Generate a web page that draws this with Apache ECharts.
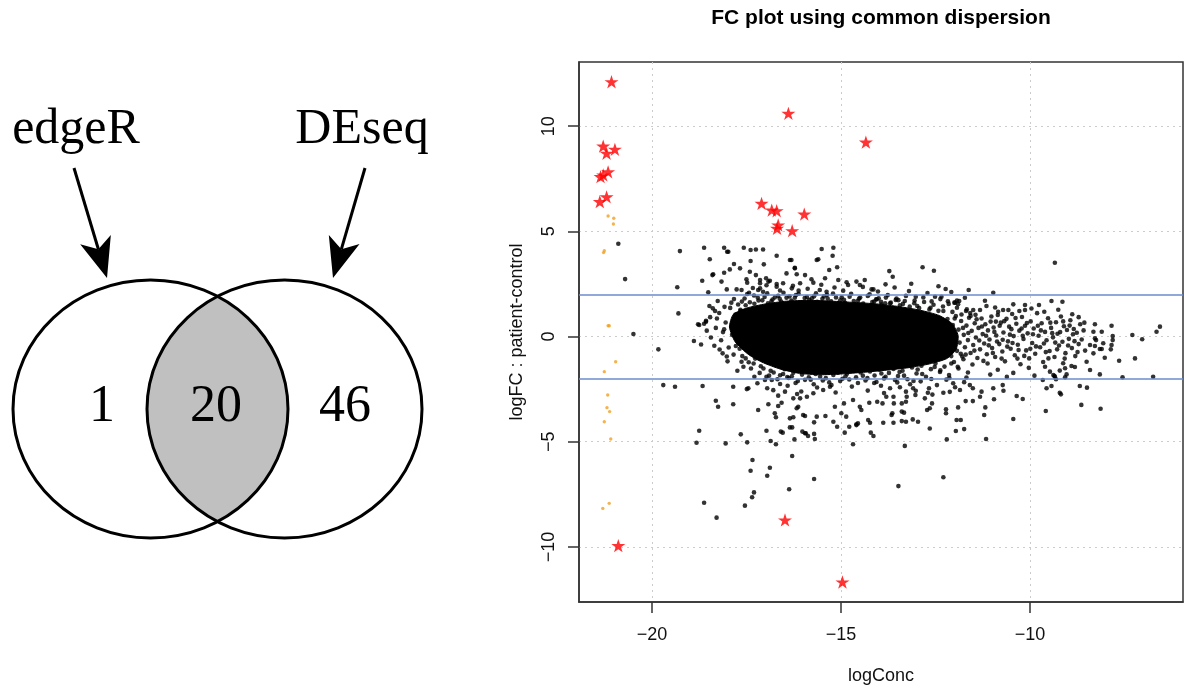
<!DOCTYPE html>
<html><head><meta charset="utf-8">
<script src="https://cdn.jsdelivr.net/npm/echarts@6/dist/echarts.min.js"></script>
<style>html,body{margin:0;padding:0;background:#fff}#c{width:1184px;height:690px}</style>
</head><body><div id="c"></div>
<script>
// ---------- data ----------
const vennSetNames = ['edgeR', 'DEseq'];
const vennCounts = [1, 20, 46]; // edgeR only, both, DEseq only
const chartTitle = 'FC plot using common dispersion';
const xAxisName = 'logConc';
const yAxisName = 'logFC : patient-control';
const xTicks = [-20, -15, -10];
const yTicks = [-10, -5, 0, 5, 10];
const fcCutoffs = [2, -2];

// significant genes (red stars)
const deStars = [
  [-21.07,12.11],[-16.39,10.61],[-14.34,9.24],[-21.29,9.05],[-20.98,8.90],[-21.20,8.71],
  [-21.16,7.83],[-21.36,7.60],[-21.29,7.68],[-21.20,6.64],[-21.38,6.41],
  [-17.10,6.33],[-16.83,6.01],[-16.70,5.98],[-15.97,5.82],[-16.66,5.30],[-16.69,5.14],[-16.29,5.03],
  [-20.89,-9.94],[-16.48,-8.72],[-14.96,-11.67]
];

// low count genes (orange)
const lowCountGenes = [
  [-21.16,5.73],[-21.01,5.62],[-21.02,5.35],[-21.28,3.99],[-21.26,4.08],
  [-21.16,0.51],[-21.13,0.51],[-20.96,-1.20],[-21.26,-1.67],[-21.17,-2.78],
  [-21.19,-3.38],[-21.12,-3.57],[-21.26,-4.05],[-21.09,-4.87],[-21.30,-8.17],[-21.13,-7.93]
];

// outline of the saturated (fully black) centre of the point cloud
const denseCoreOutline = [
  [-17.85,1.05],[-17.95,0.45],[-17.80,-0.25],[-17.45,-0.85],[-17.05,-1.25],[-16.60,-1.55],
  [-16.10,-1.75],[-15.55,-1.82],[-15.00,-1.78],[-14.40,-1.70],[-13.80,-1.60],[-13.20,-1.48],
  [-12.65,-1.30],[-12.20,-1.05],[-11.95,-0.60],[-11.90,0.05],[-12.05,0.60],[-12.40,1.00],
  [-12.90,1.25],[-13.45,1.42],[-14.05,1.55],[-14.65,1.62],[-15.25,1.68],[-15.85,1.72],
  [-16.45,1.68],[-17.00,1.55],[-17.50,1.35]
];

// other genes (black dots)
const otherGenes = [
  // upper scatter
  [-20.89,4.41],[-20.71,2.73],[-19.26,4.06],[-19.33,2.34],[-18.62,4.22],[-18.47,3.67],[-18.67,2.65],
  [-18.09,4.22],[-18.01,4.03],[-17.57,4.22],[-17.39,4.11],[-17.06,4.14],[-17.25,4.14],[-17.98,4.03],
  [-17.39,3.59],[-17.04,3.43],[-16.70,3.84],[-16.31,3.64],[-15.51,4.16],[-15.20,4.22],[-15.22,3.84],
  [-15.60,3.67],[-15.31,3.16],[-15.10,3.29],[-17.83,3.45],[-17.67,3.24],[-17.94,3.19],[-18.40,2.92],
  [-18.09,3.03],[-18.16,2.61],[-18.02,2.24],[-17.41,3.08],[-17.48,2.56],[-17.14,2.69],[-16.92,2.61],
  [-16.44,3.00],[-16.22,3.24],[-15.95,2.92],[-16.08,2.53],[-15.73,2.56],[-15.42,2.77],[-15.07,2.69],
  [-14.94,2.18],[-17.76,2.24],[-17.14,2.29],[-16.70,2.37],[-16.35,3.64],[-15.64,3.64],[-16.22,3.27],
  [-18.38,2.96],[-17.25,2.92],[-16.17,2.96],[-16.98,2.77],[-16.88,2.65],[-17.50,2.72],[-17.14,2.53],
  [-16.70,2.50],[-16.53,2.53],[-15.78,2.72],[-14.59,2.61],[-14.50,2.45],[-14.81,2.45],[-14.19,2.24],
  [-17.63,2.21],[-17.43,2.08],[-17.19,2.21],[-17.06,2.13],[-16.30,2.29],[-16.12,2.18],[-15.56,2.21],
  [-15.38,2.13],[-18.51,2.10],[-14.37,2.69],[-14.14,2.24],[-13.82,2.48],[-13.72,3.11],[-13.63,2.84],
  [-13.20,2.16],[-12.84,3.29],[-12.54,3.13],[-12.23,2.26],[-10.97,2.08],[-9.34,3.51],
  [-13.02,1.89],[-12.51,1.89],[-12.34,1.89],[-11.98,1.61],[-11.90,1.54],[-11.72,1.84],[-11.19,1.70],
  [-11.15,1.45],[-9.43,1.69],[-9.14,1.65],[-9.76,1.50],[-10.13,1.50],[-10.13,1.26],[-10.44,1.53],
  [-10.57,1.26],[-11.67,1.29],[-11.50,1.26],[-11.32,1.26],[-10.84,1.18],[-10.71,1.26],
  [-14.07,1.77],[-13.94,1.65],[-13.83,1.58],[-13.48,1.73],[-12.00,1.61],[-11.87,1.69],
  [-17.33,2.31],[-16.97,2.44],[-16.61,2.19],[-16.27,2.41],[-15.88,2.27],[-15.52,2.46],[-15.17,2.33],
  [-14.85,2.58],[-14.42,2.36],[-14.02,2.14],[-13.58,2.33],[-13.14,2.51],[-12.71,2.07],[-12.42,2.39],
  [-12.08,2.12],[-11.62,2.21],
  // left of the cloud
  [-20.49,0.12],[-19.83,-0.61],[-19.30,1.10],[-18.89,-0.21],[-18.78,0.58],[-18.57,0.70],[-18.39,1.34],
  [-18.33,1.21],[-18.13,-0.80],[-18.09,0.34],[-17.78,-0.45],[-17.63,-1.20],[-18.57,0.75],[-18.75,0.55],
  // lower scatter
  [-19.70,-2.31],[-19.39,-2.39],[-18.66,-2.35],[-17.85,-2.39],[-17.45,-2.46],[-17.01,-2.07],[-16.61,-2.26],
  [-18.31,-3.05],[-18.25,-3.34],[-17.85,-3.22],[-17.49,-2.50],[-17.19,-3.49],[-16.92,-3.22],[-16.66,-2.81],
  [-18.75,-4.48],[-18.82,-5.05],[-18.05,-5.08],[-17.65,-4.65],[-17.48,-5.03],[-17.34,-5.87],[-17.39,-6.38],
  [-16.88,-6.24],[-16.95,-6.62],[-17.30,-7.41],[-17.35,-7.64],[-17.54,-8.04],[-18.62,-7.90],[-18.29,-8.61],
  [-16.97,-4.48],[-16.86,-4.97],[-16.72,-5.12],[-16.59,-4.52],[-16.54,-4.57],[-16.37,-7.26],[-16.29,-5.68],
  [-16.23,-4.89],[-15.95,-4.60],[-15.71,-6.77],[-15.71,-4.63],[-15.69,-4.87],[-16.35,-3.89],[-16.26,-3.84],
  [-16.75,-3.65],[-16.72,-3.84],[-16.17,-3.41],[-16.13,-3.34],[-15.95,-3.78],[-15.64,-3.81],[-15.41,-3.78],
  [-15.20,-4.05],[-15.10,-4.29],[-14.99,-3.65],[-14.86,-3.81],[-14.90,-4.57],[-14.68,-5.12],[-14.59,-4.21],
  [-16.08,-2.94],[-15.90,-2.86],[-16.48,-2.62],[-15.73,-2.70],[-15.47,-2.54],[-15.29,-2.39],[-17.29,-1.91],
  [-16.97,-1.91],[-16.66,-3.30],[-16.57,-3.15],[-16.29,-4.32],[-16.35,-4.32],[-16.02,-4.52],[-15.93,-4.60],
  [-15.87,-4.73],[-16.00,-3.73],[-15.71,-4.08],[-14.78,-4.29],[-14.59,-4.17],[-14.55,-4.13],[-14.28,-3.97],
  [-14.23,-4.10],[-14.21,-4.57],[-14.14,-4.73],[-14.50,-3.34],[-14.46,-3.49],[-14.25,-3.15],[-14.92,-3.18],
  [-14.68,-3.02],[-15.16,-3.34],[-16.95,-2.46],[-16.83,-2.07],[-16.26,-2.94],[-16.16,-2.73],
  [-13.90,-3.18],[-14.04,-3.10],[-13.61,-2.86],[-13.60,-3.18],[-13.39,-3.18],[-13.28,-3.10],[-13.26,-2.86],
  [-13.28,-2.62],[-13.70,-2.46],[-13.80,-2.86],[-13.09,-2.46],[-13.03,-2.78],[-12.78,-2.94],[-12.70,-2.67],
  [-12.67,-2.46],[-13.66,-3.73],[-13.64,-3.65],[-13.39,-3.57],[-13.33,-3.62],[-13.88,-4.10],[-13.61,-4.10],
  [-13.39,-4.02],[-13.28,-4.05],[-13.10,-3.94],[-12.96,-4.05],[-12.72,-3.49],[-12.65,-3.41],[-12.59,-3.18],
  [-12.65,-4.37],[-12.22,-3.46],[-12.22,-3.65],[-11.90,-3.37],[-12.29,-2.67],[-11.70,-3.07],[-11.51,-3.07],
  [-11.94,-3.97],[-11.83,-3.97],[-11.96,-4.49],[-11.74,-4.40],[-12.20,-4.89],[-11.21,-3.73],[-11.18,-3.37],
  [-10.95,-2.98],[-11.16,-4.87],[-13.31,-5.20],[-12.29,-6.69],[-13.48,-7.11],[-10.44,-3.92],[-10.35,-2.83],
  [-10.19,-2.97],[-10.70,-2.58],[-10.72,-2.31],[-10.97,-2.46],[-9.58,-3.54],[-9.56,-2.46],[-9.43,-2.35],
  [-9.21,-2.67],[-9.18,-2.75],[-9.07,-1.94],[-9.35,-1.88],[-9.66,-2.07],[-11.32,-2.86],[-11.28,-2.62],
  [-11.59,-2.31],[-11.51,-2.46],[-11.85,-2.54],[-12.03,-2.22],
  [-14.12,-2.21],[-13.94,-2.34],[-13.51,-2.18],[-13.17,-2.27],[-12.89,-2.13],[-12.46,-2.31],[-12.21,-2.05],
  [-11.98,-2.41],[-11.74,-2.17],
  [-17.21,-2.22],[-16.79,-2.55],[-16.41,-2.34],[-16.05,-2.61],[-15.63,-2.42],[-15.14,-2.66],[-14.71,-2.38],
  [-14.29,-2.57],[-13.86,-2.69],[-13.44,-2.41],[-13.02,-2.58],[-12.58,-2.76],[-12.12,-2.63],
  // right tail
  [-8.56,0.66],[-8.28,0.58],[-7.84,0.51],[-7.29,0.07],[-7.03,-0.13],[-6.65,0.23],[-6.56,0.47],[-7.81,0.02],
  [-7.81,-0.17],[-7.84,-0.40],[-7.86,-0.61],[-8.10,0.23],[-8.06,-0.32],[-8.10,-0.59],[-8.32,0.23],[-8.28,-0.09],
  [-8.25,-0.17],[-8.41,-0.40],[-8.28,-0.45],[-8.32,-0.80],[-8.15,-0.59],[-8.02,-1.01],[-7.64,-1.15],[-7.22,-1.04],
  [-8.41,-1.59],[-8.50,-1.20],[-8.15,-1.80],[-7.55,-1.94],[-6.74,-1.91],[-8.68,-2.35],[-8.49,-2.43],[-8.64,-3.25],
  [-8.13,-3.43],[-8.90,-1.40],[-9.12,-1.27],[-9.07,-1.51],[-9.03,-1.80],[-9.34,-1.91],[-9.31,-2.03],[-9.47,-1.67],
  [-9.38,-1.83],[-9.60,-1.44],[-9.51,-1.04],
  // edge of the dense cloud: top
  [-17.72,1.52],[-17.55,1.81],[-17.41,1.63],[-17.30,1.95],[-17.18,1.71],[-17.02,1.88],[-16.93,1.58],[-16.81,1.76],
  [-16.66,1.93],[-16.58,1.66],[-16.44,1.84],[-16.31,1.71],[-16.19,1.97],[-16.07,1.62],[-15.96,1.83],[-15.84,1.74],
  [-15.71,1.91],[-15.63,1.65],[-15.49,1.79],[-15.37,1.98],[-15.26,1.68],[-15.13,1.86],[-15.02,1.72],[-14.89,1.60],
  [-14.77,1.89],[-14.66,1.69],[-14.52,1.81],[-14.41,1.57],[-14.29,1.93],[-14.17,1.64],[-14.05,1.77],[-13.93,1.52],
  [-13.81,1.85],[-13.68,1.61],[-13.55,1.74],[-13.44,1.48],[-13.31,1.69],[-13.18,1.42],[-13.06,1.58],[-12.93,1.35],
  [-12.80,1.64],[-12.66,1.29],[-12.55,1.51],[-12.42,1.22],[-12.30,1.43],[-12.17,1.68],[-12.05,1.17],[-11.93,1.37],
  [-11.81,1.05],[-11.69,1.21],[-11.57,0.98],
  [-17.62,1.66],[-17.48,2.02],[-17.20,1.84],[-16.95,2.05],[-16.75,1.86],[-16.52,2.08],[-16.36,1.90],[-16.12,2.03],
  [-15.90,1.88],[-15.66,2.06],[-15.45,1.91],[-15.21,2.04],[-14.98,1.87],[-14.73,2.03],[-14.49,1.85],[-14.24,2.01],
  [-14.00,1.82],[-13.76,1.97],[-13.53,1.80],[-13.28,1.93],[-13.05,1.71],[-12.82,1.86],[-12.60,1.67],[-12.37,1.78],
  [-12.15,1.55],[-11.93,1.71],
  [-17.66,1.21],[-17.52,1.49],[-17.29,1.56],[-17.08,1.72],[-16.84,1.67],[-16.62,1.79],[-16.22,1.84],[-15.77,1.82],
  [-15.35,1.80],[-14.92,1.75],[-14.55,1.70],[-14.12,1.66],[-13.70,1.58],[-13.36,1.55],[-12.98,1.45],[-12.63,1.37],
  [-12.29,1.21],[-11.99,0.86],
  // edge of the dense cloud: bottom
  [-17.61,-0.93],[-17.44,-1.22],[-17.27,-1.05],[-17.12,-1.41],[-16.98,-1.18],[-16.86,-1.63],[-16.73,-1.37],
  [-16.61,-1.84],[-16.49,-1.55],[-16.38,-1.97],[-16.26,-1.72],[-16.14,-2.12],[-16.03,-1.81],[-15.91,-1.63],
  [-15.80,-2.05],[-15.67,-1.78],[-15.55,-1.91],[-15.43,-1.69],[-15.31,-2.18],[-15.20,-1.83],[-15.08,-1.72],
  [-14.96,-2.01],[-14.84,-1.77],[-14.71,-1.62],[-14.60,-1.94],[-14.48,-1.71],[-14.35,-2.09],[-14.23,-1.66],
  [-14.11,-1.85],[-13.98,-1.58],[-13.86,-1.99],[-13.73,-1.73],[-13.61,-1.54],[-13.49,-1.88],[-13.37,-1.63],
  [-13.24,-2.03],[-13.12,-1.47],[-13.00,-1.76],[-12.87,-1.39],[-12.75,-1.91],[-12.62,-1.55],[-12.50,-1.28],
  [-12.38,-1.69],[-12.26,-1.43],[-12.13,-1.97],[-12.01,-1.21],[-11.89,-1.52],[-11.76,-1.08],[-11.64,-1.71],
  [-11.52,-1.33],
  [-17.38,-1.52],[-17.15,-1.73],[-16.90,-1.86],[-16.68,-2.03],[-16.42,-1.93],[-16.20,-2.21],[-15.95,-2.06],
  [-15.72,-2.27],[-15.48,-2.09],[-15.25,-2.31],[-15.02,-2.12],[-14.78,-2.04],[-14.55,-2.21],[-14.30,-1.98],
  [-14.06,-2.16],[-13.82,-1.92],[-13.57,-2.07],[-13.33,-1.86],[-13.08,-2.11],[-12.85,-1.78],[-12.61,-2.02],
  [-12.37,-1.61],[-12.14,-1.83],[-11.91,-1.44],[-11.68,-1.95],
  [-17.68,-0.58],[-17.52,-1.04],[-17.31,-1.28],[-17.05,-1.52],[-16.78,-1.71],[-16.53,-1.78],[-16.30,-1.89],
  [-15.85,-1.94],[-15.40,-1.98],[-14.88,-1.89],[-14.42,-1.86],[-13.93,-1.76],[-13.45,-1.69],[-12.97,-1.57],
  [-12.52,-1.45],[-12.08,-1.28],[-11.83,-0.82],
  // edge of the dense cloud: left
  [-18.46,0.92],[-18.31,0.41],[-18.22,1.12],[-18.17,-0.18],[-18.05,0.67],[-17.97,-0.52],[-17.93,1.36],[-17.88,0.08],
  [-17.84,-0.86],[-17.79,1.04],[-17.74,0.52],[-17.70,-0.31],[-17.66,1.27],[-18.12,0.21],[-18.02,-0.95],[-17.90,1.61],
  [-18.35,-0.44],[-18.55,0.28],[-17.58,-1.44],[-17.83,1.78],
  [-18.62,0.61],[-18.44,-0.05],[-18.28,0.86],[-18.21,-0.62],[-18.08,1.41],[-18.00,-1.18],[-18.48,1.45],[-18.70,-0.38],
  [-18.26,1.69],[-17.74,-1.63],
  // thinning cloud to the right
  [-12.18,0.83],[-12.15,0.21],[-12.11,-0.47],[-12.08,-0.93],[-12.04,0.55],[-12.00,-0.12],[-11.96,0.97],[-11.93,-0.68],
  [-11.89,0.33],[-11.86,-0.29],[-11.82,0.74],[-11.79,-0.95],[-11.75,0.08],[-11.72,-0.51],[-11.68,0.52],[-11.64,-0.17],
  [-11.61,0.89],[-11.57,-0.78],[-11.54,0.27],[-11.50,-0.40],[-11.46,0.63],[-11.43,-0.05],[-11.39,-1.02],[-11.36,0.41],
  [-11.32,-0.61],[-11.28,0.86],[-11.25,0.12],[-11.21,-0.33],[-11.18,0.58],[-11.14,-0.84],[-11.11,0.29],[-11.07,-0.14],
  [-11.04,0.71],[-11.00,-0.55],
  [-11.77,0.41],[-11.70,-0.86],[-11.63,0.17],[-11.58,1.12],[-11.47,-0.67],[-11.41,0.82],[-11.34,-0.19],[-11.27,0.48],
  [-11.23,-1.16],[-11.16,0.04],[-11.09,-0.42],[-11.02,0.95],[-10.98,-0.78],[-10.94,0.22],[-10.87,-0.24],[-10.80,0.51],
  [-10.75,-1.05],[-10.68,0.73],[-10.60,-0.48],[-10.53,0.09],[-10.46,-0.31],[-10.38,0.88],[-10.30,-0.64],[-10.22,0.38],
  [-10.15,-0.92],[-10.08,0.64],[-9.92,0.11],[-9.84,-0.47],[-9.71,0.29],[-9.58,-0.74],[-9.46,0.66],[-9.33,-0.29],
  [-9.20,0.21],[-9.08,-1.05],[-8.95,0.52],[-8.82,-0.22],
  [-11.44,1.03],[-11.12,-1.28],[-10.90,0.71],[-10.72,-0.15],[-10.49,0.35],[-10.33,-1.05],[-10.19,0.04],[-9.99,-0.58],
  [-9.79,0.51],[-9.63,-0.33],[-9.41,0.16],[-9.28,-0.61],[-9.12,0.72],[-8.99,-0.43],[-8.86,0.11],[-8.74,-0.74],
  [-10.96,0.43],[-10.92,-0.97],[-10.89,0.05],[-10.85,1.02],[-10.81,-0.36],[-10.77,0.66],[-10.73,-0.71],[-10.70,0.19],
  [-10.66,-1.18],[-10.62,0.84],[-10.58,-0.23],[-10.55,0.47],[-10.51,-0.58],[-10.47,1.07],[-10.43,0.02],[-10.40,-0.89],
  [-10.36,0.61],[-10.32,-0.39],[-10.28,0.28],[-10.25,-1.32],[-10.21,0.93],[-10.17,-0.12],[-10.13,0.51],[-10.10,-0.66],
  [-10.06,0.15],[-10.02,-1.04],
  [-9.98,0.72],[-9.94,-0.31],[-9.90,0.38],[-9.86,-0.82],[-9.81,1.11],[-9.77,0.04],[-9.73,-0.51],[-9.69,0.63],
  [-9.65,-1.21],[-9.60,0.22],[-9.56,-0.18],[-9.52,0.87],[-9.48,-0.69],[-9.44,0.41],[-9.39,-0.04],[-9.35,-0.97],
  [-9.31,0.68],[-9.27,0.13],[-9.23,-0.43],[-9.18,0.95],[-9.14,-0.25],[-9.10,0.49],[-9.06,-0.79],[-9.02,0.31],
  [-8.97,-0.11],[-8.93,0.77],[-8.89,-0.55],[-8.84,0.36],[-8.80,-0.93],[-8.76,0.18],[-8.71,-0.36],[-8.67,0.58],
  [-8.63,-0.14],[-8.58,0.29],[-8.54,-0.67],
  [-10.85,-1.58],[-10.44,-1.73],[-10.03,-1.49],[-9.88,-1.86],[-9.21,-1.62],[-8.81,-1.45],[-10.61,-1.92],[-11.05,-1.81],
  [-10.92,1.38],[-10.28,1.21],[-9.96,1.33],[-9.62,1.18],[-9.25,1.27],[-8.88,1.06],[-8.71,0.92]
];

// ---------- layout helpers (geometry of the Venn drawing) ----------
const VENN = { cy: 409, rx: 137.5, ry: 129, cxL: 150.5, cxR: 284.5 };
function lensPoints() {
  const pts = [];
  const t0 = Math.acos(((VENN.cxR - VENN.cxL) / 2) / VENN.rx);
  const N = 60;
  for (let i = 0; i <= N; i++) { const t = -t0 + 2 * t0 * i / N; pts.push([VENN.cxL + VENN.rx * Math.cos(t), VENN.cy + VENN.ry * Math.sin(t)]); }
  for (let i = 0; i <= N; i++) { const t = t0 - 2 * t0 * i / N; pts.push([VENN.cxR - VENN.rx * Math.cos(t), VENN.cy + VENN.ry * Math.sin(t)]); }
  return pts;
}
function arrow(sx, sy, tx, ty) {
  const dx = tx - sx, dy = ty - sy, len = Math.hypot(dx, dy), ux = dx / len, uy = dy / len, nx = -uy, ny = ux;
  const L = 40, W = 16, notch = 30;
  return [
    { type: 'line', z: 3, shape: { x1: sx, y1: sy, x2: tx - ux * notch, y2: ty - uy * notch }, style: { stroke: '#000', lineWidth: 3 } },
    { type: 'polygon', z: 3, shape: { points: [[tx, ty], [tx - ux * L + nx * W, ty - uy * L + ny * W], [tx - ux * notch, ty - uy * notch], [tx - ux * L - nx * W, ty - uy * L - ny * W]] }, style: { fill: '#000' } }
  ];
}
function txt(text, x, y, font, align) {
  return { type: 'text', z: 10, x: x, y: y, style: { text: text, font: font, fill: '#000', textAlign: align || 'center', align: align || 'center', textVerticalAlign: 'middle', verticalAlign: 'middle' } };
}

const STAR = 'path://M50,0 L61.23,34.55 L97.55,34.55 L68.17,55.9 L79.39,90.45 L50,69.1 L20.61,90.45 L31.83,55.9 L2.45,34.55 L38.77,34.55 Z';
const minus = v => String(v).replace('-', '\u2212');
const SANS = '"Liberation Sans", Arial, sans-serif';
const SERIF = '"Liberation Serif", "Times New Roman", serif';

const chart = echarts.init(document.getElementById('c'), null, { renderer: 'canvas' });
chart.setOption({
  animation: false,
  backgroundColor: '#fff',
  grid: { left: 579, top: 62, width: 604, height: 540, show: true, borderColor: '#333', borderWidth: 1.5, backgroundColor: 'transparent', containLabel: false },
  xAxis: {
    type: 'value', min: -21.93, max: -5.95,
    name: xAxisName, nameLocation: 'middle', nameGap: 65,
    nameTextStyle: { fontFamily: SANS, fontSize: 18, color: '#111' },
    axisLine: { show: true, onZero: false, lineStyle: { color: '#333', width: 1.5 } },
    axisTick: { show: true, length: 11, customValues: xTicks, lineStyle: { color: '#333', width: 1.5 } },
    axisLabel: { customValues: xTicks, formatter: minus, margin: 24, fontFamily: SANS, fontSize: 18, color: '#111' },
    splitLine: { show: true, lineStyle: { type: [2, 4], color: '#cccccc', width: 1 } }
  },
  yAxis: {
    type: 'value', min: -12.62, max: 13.05,
    name: yAxisName, nameLocation: 'middle', nameGap: 53, nameRotate: 90,
    nameTextStyle: { fontFamily: SANS, fontSize: 18, color: '#111' },
    axisLine: { show: true, onZero: false, lineStyle: { color: '#333', width: 1.5 } },
    axisTick: { show: true, length: 11, customValues: yTicks, lineStyle: { color: '#333', width: 1.5 } },
    axisLabel: { customValues: yTicks, formatter: minus, rotate: 90, margin: 21, fontFamily: SANS, fontSize: 18, color: '#111' },
    splitLine: { show: true, lineStyle: { type: [2, 4], color: '#cccccc', width: 1 } }
  },
  series: [
    {
      type: 'custom', z: 2, silent: true, data: [0],
      renderItem: function (params, api) {
        const pts = denseCoreOutline.map(p => api.coord(p));
        return { type: 'polygon', shape: { points: pts, smooth: 0.2 }, style: { fill: '#000', stroke: '#000', lineWidth: 1 } };
      }
    },
    {
      type: 'scatter', z: 3, data: otherGenes, symbol: 'circle', symbolSize: 4.6,
      itemStyle: { color: '#000' }, silent: true,
      markLine: {
        silent: true, symbol: ['none', 'none'], label: { show: false },
        lineStyle: { color: '#6d8ccd', width: 1.6, type: 'solid' },
        data: fcCutoffs.map(v => ({ yAxis: v }))
      }
    },
    { type: 'scatter', z: 4, data: lowCountGenes, symbol: 'circle', symbolSize: 3.4, itemStyle: { color: '#f0a020' }, silent: true },
    { type: 'scatter', z: 5, data: deStars, symbol: STAR, symbolKeepAspect: true, symbolSize: 14, itemStyle: { color: '#ff0000' }, silent: true }
  ],
  graphic: [
    { type: 'polygon', z: 1, shape: { points: lensPoints() }, style: { fill: '#c0c0c0' } },
    { type: 'ellipse', z: 2, shape: { cx: VENN.cxL, cy: VENN.cy, rx: VENN.rx, ry: VENN.ry }, style: { fill: 'none', stroke: '#000', lineWidth: 3 } },
    { type: 'ellipse', z: 2, shape: { cx: VENN.cxR, cy: VENN.cy, rx: VENN.rx, ry: VENN.ry }, style: { fill: 'none', stroke: '#000', lineWidth: 3 } },
    ...arrow(74, 168, 107, 278),
    ...arrow(365, 168, 333, 278),
    txt(vennSetNames[0], 76, 130, '50px ' + SERIF),
    txt(vennSetNames[1], 362, 130, '50px ' + SERIF),
    txt(String(vennCounts[0]), 102, 407, '52px ' + SERIF),
    txt(String(vennCounts[1]), 216, 407, '52px ' + SERIF),
    txt(String(vennCounts[2]), 345, 407, '52px ' + SERIF),
    txt(chartTitle, 881, 18, 'bold 21px ' + SANS)
  ]
});
</script></body></html>
